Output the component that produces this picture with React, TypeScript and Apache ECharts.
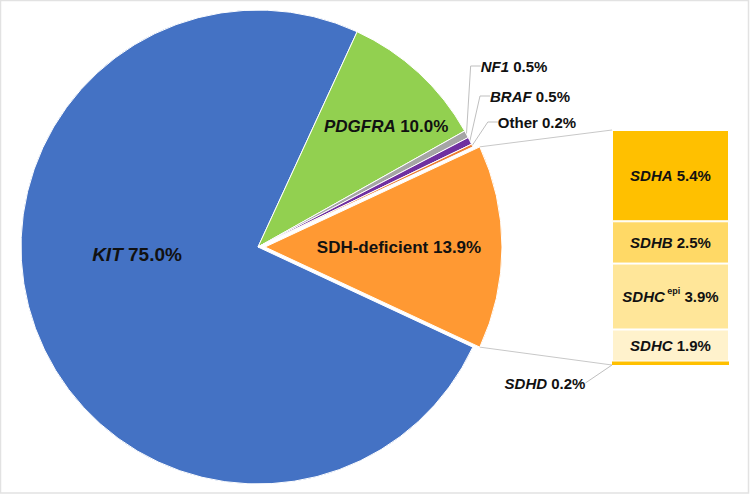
import React, { useEffect, useRef } from 'react';
import * as echarts from 'echarts';

// ---- data ----
const pieNames = ['SDH-deficient', 'KIT', 'PDGFRA', 'NF1', 'BRAF', 'Other'];
const pieValues = [13.9, 75.0, 10.0, 0.5, 0.5, 0.2];
const pieItalic = [false, true, true, true, true, false];

const barNames = ['SDHA', 'SDHB', 'SDHC', 'SDHC', 'SDHD'];
const barSup = ['', '', 'epi', '', ''];
const barValues = [5.4, 2.5, 3.9, 1.9, 0.2];

// ---- styles / layout ----
const pieColors = ['#FF9933', '#4472C4', '#92D050', '#A5A5A5', '#7030A0', '#ED7D31'];
const barColors = ['#FFC000', '#FFD966', '#FFE699', '#FFF2CC', '#FFC000'];
const pieLabelSize = [17, 19, 17, 15, 15, 15];
const pieLabelPos: number[][] = [
  [399, 247],
  [137, 254],
  [386, 126],
  [514, 66],
  [530, 96],
  [537, 122],
];
const sdhdLabelPos = [545, 383];
const PIE_CX = 258;
const PIE_CY = 247;
const PIE_R = 237;
const EXPLODE = 7;
const BAR_LEFT = 612;
const BAR_TOP = 130;
const BAR_W = 117;
const BAR_H = 235;
const FONT = '"Liberation Sans", Arial, sans-serif';
const TXT = '#111111';

function buildRich() {
  const rich: Record<string, any> = {};
  [15, 17, 19].forEach((s) => {
    rich['i' + s] = { fontFamily: FONT, fontSize: s, fontWeight: 'bold', fontStyle: 'italic', color: TXT };
    rich['b' + s] = { fontFamily: FONT, fontSize: s, fontWeight: 'bold', color: TXT };
  });
  rich.bi = { fontFamily: FONT, fontSize: 15, fontWeight: 'bold', fontStyle: 'italic', color: TXT, lineHeight: 20 };
  rich.bb = { fontFamily: FONT, fontSize: 15, fontWeight: 'bold', color: TXT, lineHeight: 20 };
  rich.sup = { fontFamily: FONT, fontSize: 9, fontWeight: 'bold', color: TXT, verticalAlign: 'top', lineHeight: 12 };
  return rich;
}

export default function App() {
  const ref = useRef<HTMLDivElement>(null);
  useEffect(() => {
    if (!ref.current) return;
    const chart = echarts.init(ref.current, undefined, { renderer: 'svg' });
    const total = pieValues.reduce((a, b) => a + b, 0);
    const sdhAngle = (pieValues[0] / total) * 360;
    const startAngle = sdhAngle / 2;
    const barTotal = barValues.reduce((a, b) => a + b, 0);
    const rich = buildRich();

    const midRad = ((startAngle - sdhAngle / 2) * Math.PI) / 180;
    const ox = PIE_CX + EXPLODE * Math.cos(midRad);
    const oy = PIE_CY - EXPLODE * Math.sin(midRad);
    const aTop = (startAngle * Math.PI) / 180;
    const aBot = ((startAngle - sdhAngle) * Math.PI) / 180;
    const pTop = [ox + PIE_R * Math.cos(aTop), oy - PIE_R * Math.sin(aTop)];
    const pBot = [ox + PIE_R * Math.cos(aBot), oy - PIE_R * Math.sin(aBot)];

    const labelFormatter = (p: any) => {
      const i = p.dataIndex;
      const s = pieLabelSize[i];
      const v = pieValues[i].toFixed(1) + '%';
      return pieItalic[i]
        ? `{i${s}|${pieNames[i]} }{b${s}|${v}}`
        : `{b${s}|${pieNames[i]} ${v}}`;
    };
    const labelLayout = (p: any) => {
      const pos = pieLabelPos[p.dataIndex];
      return { x: pos[0], y: pos[1], align: 'center', verticalAlign: 'middle' };
    };

    const option: any = {
      animation: false,
      backgroundColor: '#ffffff',
      grid: { left: BAR_LEFT, top: BAR_TOP, width: BAR_W, height: BAR_H },
      xAxis: { type: 'category', data: ['SDH'], show: false },
      yAxis: { type: 'value', min: 0, max: barTotal, inverse: true, show: false },
      graphic: [
        {
          type: 'rect',
          shape: { x: 0.5, y: 0.5, width: 748, height: 492.5 },
          style: { fill: 'none', stroke: '#E2E2E2', lineWidth: 1.5 },
          silent: true,
        },
        {
          type: 'line',
          shape: { x1: pTop[0], y1: pTop[1], x2: BAR_LEFT, y2: BAR_TOP },
          style: { stroke: '#C8C8C8', lineWidth: 1 },
          silent: true,
        },
        {
          type: 'line',
          shape: { x1: pBot[0], y1: pBot[1], x2: BAR_LEFT, y2: BAR_TOP + BAR_H },
          style: { stroke: '#C8C8C8', lineWidth: 1 },
          silent: true,
        },
      ],
      series: [
        // main pie (split slice left empty)
        {
          type: 'pie',
          center: [PIE_CX, PIE_CY],
          radius: PIE_R,
          startAngle,
          clockwise: true,
          avoidLabelOverlap: false,
          silent: true,
          emphasis: { disabled: true },
          itemStyle: { borderColor: '#ffffff', borderWidth: 1 },
          label: { show: true, formatter: labelFormatter, rich },
          labelLine: { lineStyle: { color: '#BFBFBF', width: 1 } },
          labelLayout,
          data: pieNames.map((n, i) => ({
            name: n,
            value: pieValues[i],
            itemStyle: i === 0 ? { color: 'rgba(0,0,0,0)', borderWidth: 0 } : { color: pieColors[i] },
            label: { show: i !== 0, position: i >= 3 ? 'outside' : 'inside' },
            labelLine: { show: i >= 3, length: 10, length2: 10 },
          })),
        },
        // exploded split slice
        {
          type: 'pie',
          center: [ox, oy],
          radius: PIE_R,
          startAngle,
          clockwise: true,
          avoidLabelOverlap: false,
          silent: true,
          emphasis: { disabled: true },
          label: { show: true, formatter: labelFormatter, rich },
          labelLayout,
          data: pieNames.map((n, i) => ({
            name: n,
            value: pieValues[i],
            itemStyle:
              i === 0
                ? { color: pieColors[i], borderColor: '#ffffff', borderWidth: 1 }
                : { color: 'rgba(0,0,0,0)', borderWidth: 0 },
            label: { show: i === 0, position: 'inside' },
            labelLine: { show: false },
          })),
        },
        ...barNames.map((n, i) => {
          const last = i === barNames.length - 1;
          const s: any = {
            type: 'bar',
            name: n + barSup[i],
            stack: 'sdh',
            barWidth: '100%',
            silent: true,
            emphasis: { disabled: true },
            data: [barValues[i]],
            itemStyle: { color: barColors[i], borderColor: '#ffffff', borderWidth: last ? 0 : 1 },
            label: {
              show: true,
              position: 'inside',
              formatter: () =>
                barSup[i]
                  ? `{bi|${n}}{sup| ${barSup[i]}}{bb| ${barValues[i].toFixed(1)}%}`
                  : `{bi|${n}}{bb| ${barValues[i].toFixed(1)}%}`,
              rich,
            },
          };
          if (last) {
            s.labelLayout = { x: sdhdLabelPos[0], y: sdhdLabelPos[1], align: 'center', verticalAlign: 'middle' };
            s.labelLine = { show: true, lineStyle: { color: '#BFBFBF', width: 1 } };
          }
          return s;
        }),
      ],
    };
    chart.setOption(option);
    return () => chart.dispose();
  }, []);
  return (
    <div
      ref={ref}
      style={{ position: 'fixed', left: 0, top: 0, width: 750, height: 495, background: '#fff' }}
    />
  );
}
